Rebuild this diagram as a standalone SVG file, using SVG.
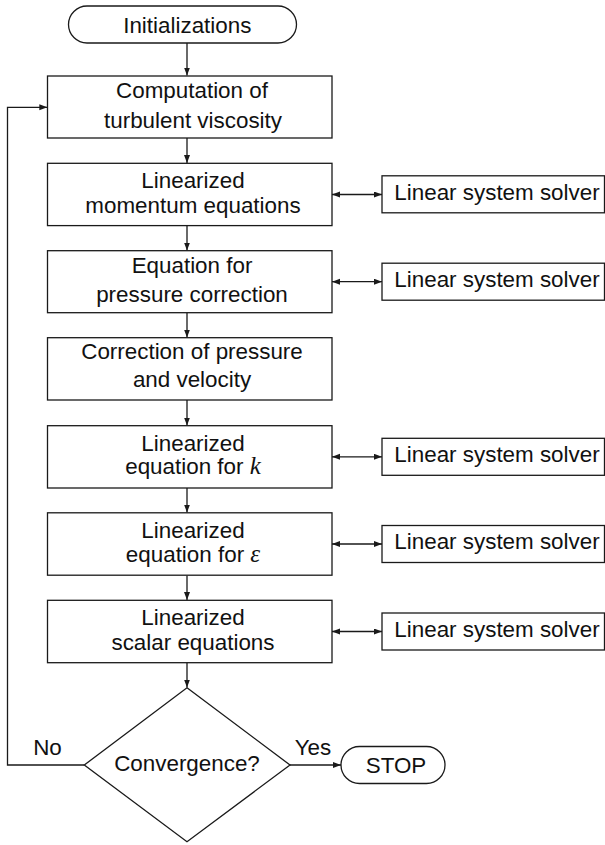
<svg xmlns="http://www.w3.org/2000/svg" width="605" height="845" viewBox="0 0 605 845">
<style>
.box{fill:#fff;stroke:#1a1a1a;stroke-width:1.3}
.ln{fill:none;stroke:#1a1a1a;stroke-width:1.3}
text{font-family:"Liberation Sans",Arial,sans-serif;font-size:22.4px;fill:#111;text-anchor:middle}
.m{font-family:"Liberation Serif","Times New Roman",serif;font-style:italic;font-size:25px}
</style>
<defs>
<marker id="ah" markerWidth="9" markerHeight="7" refX="8" refY="3" orient="auto-start-reverse" markerUnits="userSpaceOnUse">
<path d="M0,0 L8,3 L0,6 z" fill="#1a1a1a"/>
</marker>
</defs>
<rect width="605" height="845" fill="#fff"/>
<g id="connectors">
<line class="ln" x1="187" y1="43" x2="187" y2="75.5" marker-end="url(#ah)"/>
<line class="ln" x1="187" y1="138" x2="187" y2="163" marker-end="url(#ah)"/>
<line class="ln" x1="187" y1="225.5" x2="187" y2="250.5" marker-end="url(#ah)"/>
<line class="ln" x1="187" y1="313" x2="187" y2="337.5" marker-end="url(#ah)"/>
<line class="ln" x1="187" y1="400" x2="187" y2="425.5" marker-end="url(#ah)"/>
<line class="ln" x1="187" y1="488" x2="187" y2="512.5" marker-end="url(#ah)"/>
<line class="ln" x1="187" y1="575.5" x2="187" y2="600" marker-end="url(#ah)"/>
<line class="ln" x1="187" y1="662.5" x2="187" y2="687.5" marker-end="url(#ah)"/>
<line class="ln" x1="332" y1="194.5" x2="382" y2="194.5" marker-start="url(#ah)" marker-end="url(#ah)"/>
<line class="ln" x1="332" y1="281.7" x2="382" y2="281.7" marker-start="url(#ah)" marker-end="url(#ah)"/>
<line class="ln" x1="332" y1="456.8" x2="382" y2="456.8" marker-start="url(#ah)" marker-end="url(#ah)"/>
<line class="ln" x1="332" y1="544" x2="382" y2="544" marker-start="url(#ah)" marker-end="url(#ah)"/>
<line class="ln" x1="332" y1="631.5" x2="382" y2="631.5" marker-start="url(#ah)" marker-end="url(#ah)"/>
<polyline class="ln" points="84.3,765 7.5,765 7.5,107.3 47.3,107.3" marker-end="url(#ah)"/>
<line class="ln" x1="290" y1="765" x2="341" y2="765" marker-end="url(#ah)"/>
<text x="47.5" y="755">No</text>
<text x="313" y="755">Yes</text>
</g>
<g id="init">
<rect class="box" x="68.5" y="6" width="228" height="37" rx="18.5"/>
<text x="187.3" y="33">Initializations</text>
</g>
<g id="turb">
<rect class="box" x="47.5" y="76" width="284.5" height="62"/>
<text x="192" y="98.3">Computation of</text>
<text x="193" y="127.7">turbulent viscosity</text>
</g>
<g id="mom">
<rect class="box" x="47.5" y="163.3" width="284.5" height="62.3"/>
<text x="193" y="187.5">Linearized</text>
<text x="193" y="212.7">momentum equations</text>
</g>
<g id="press">
<rect class="box" x="47.5" y="250.7" width="284.5" height="62"/>
<text x="192" y="273.3">Equation for</text>
<text x="192" y="301.7">pressure correction</text>
</g>
<g id="corr">
<rect class="box" x="47.5" y="337.7" width="284.5" height="62.3"/>
<text x="192" y="358.5">Correction of pressure</text>
<text x="192" y="386.7">and velocity</text>
</g>
<g id="keq">
<rect class="box" x="47.5" y="425.7" width="284.5" height="62.3"/>
<text x="193" y="450.7">Linearized</text>
<text x="193" y="474.3">equation for <tspan class="m">k</tspan></text>
</g>
<g id="epseq">
<rect class="box" x="47.5" y="512.8" width="284.5" height="62.4"/>
<text x="193" y="538">Linearized</text>
<text x="193" y="561.7">equation for <tspan class="m">ε</tspan></text>
</g>
<g id="scalar">
<rect class="box" x="47.5" y="600.3" width="284.5" height="62.4"/>
<text x="193" y="625">Linearized</text>
<text x="193" y="649.5">scalar equations</text>
</g>
<g id="solver1">
<rect class="box" x="382" y="175.8" width="222.5" height="37"/>
<text x="497" y="199.5">Linear system solver</text>
</g>
<g id="solver2">
<rect class="box" x="382" y="263.2" width="222.5" height="37"/>
<text x="497" y="286.7">Linear system solver</text>
</g>
<g id="solver3">
<rect class="box" x="382" y="438.3" width="222.5" height="37"/>
<text x="497" y="461.8">Linear system solver</text>
</g>
<g id="solver4">
<rect class="box" x="382" y="525.5" width="222.5" height="37"/>
<text x="497" y="549">Linear system solver</text>
</g>
<g id="solver5">
<rect class="box" x="382" y="613" width="222.5" height="37"/>
<text x="497" y="636.5">Linear system solver</text>
</g>
<g id="conv">
<polygon class="box" points="187,687.7 290,765 187,841.7 84.3,765"/>
<text x="187" y="770.7">Convergence?</text>
</g>
<g id="stop">
<rect class="box" x="341" y="746.5" width="104" height="37" rx="18.5"/>
<text x="396" y="772.5">STOP</text>
</g>
</svg>
